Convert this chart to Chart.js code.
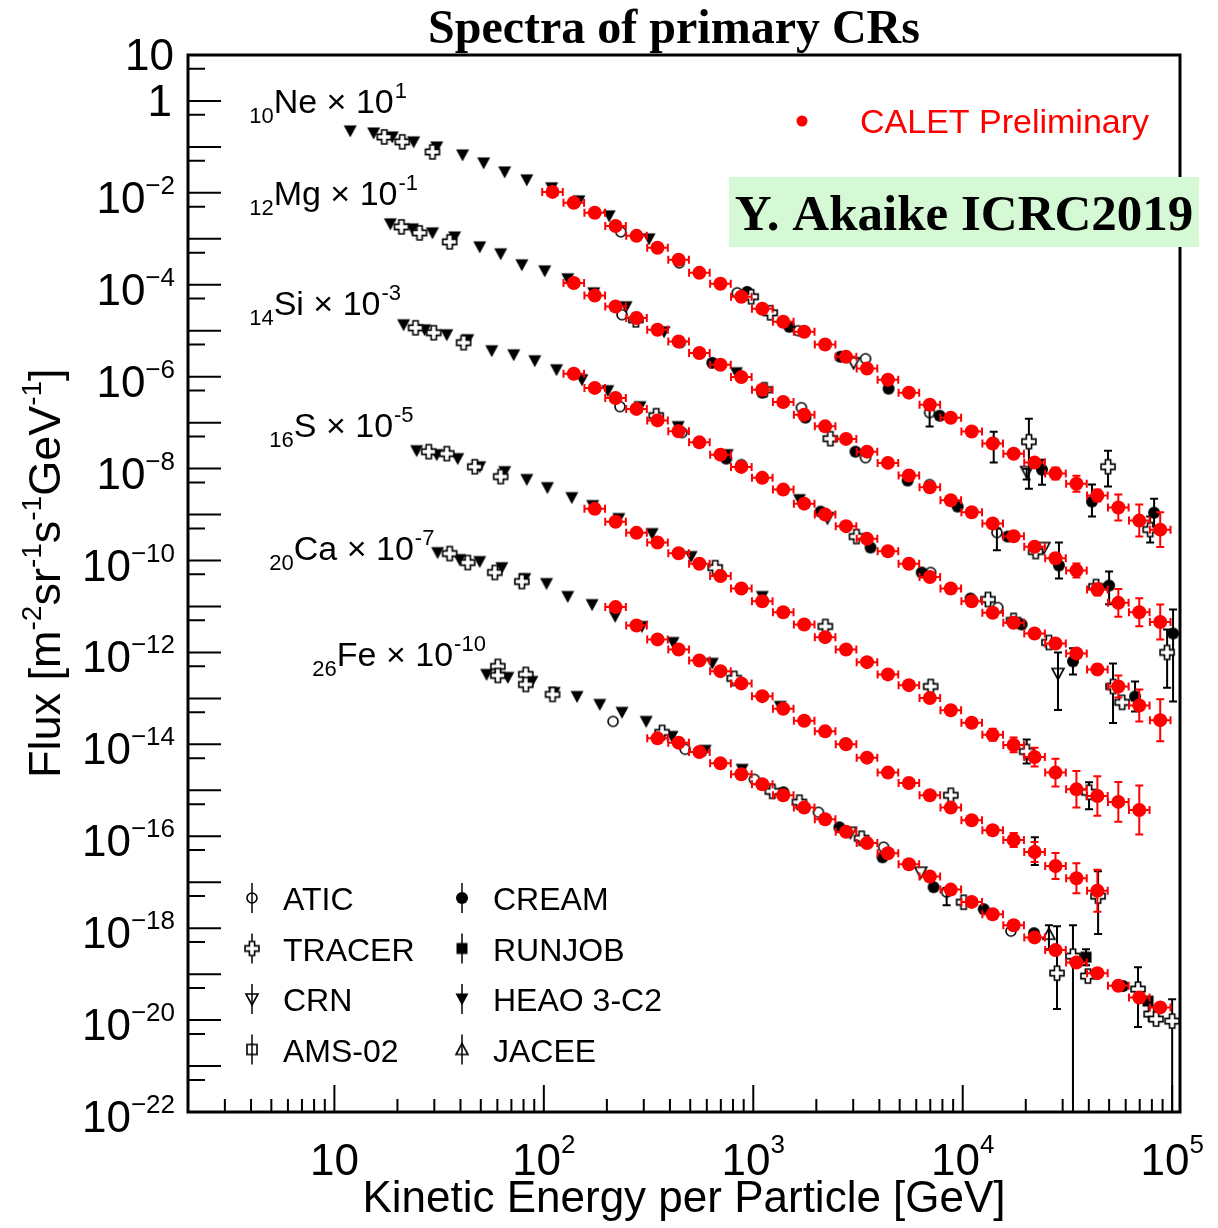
<!DOCTYPE html>
<html>
<head>
<meta charset="utf-8">
<title>Spectra of primary CRs</title>
<script src="https://cdn.jsdelivr.net/npm/chart.js@4.4.1/dist/chart.umd.min.js"></script>
<style>
  html, body { margin: 0; padding: 0; background: #fff; }
  canvas { display: block; }
</style>
</head>
<body>
<canvas id="graficoEspectros" width="1218" height="1228"></canvas>
<script>
// CALET energy bins (GeV per particle), shared by all elements
const caletEnergy = [110, 139, 175, 220, 277, 349, 440, 553, 697, 877, 1104, 1390, 1750, 2203, 2773,
  3491, 4395, 5533, 6966, 8770, 11040, 13900, 17500, 22030, 27730, 34910, 43950, 55330, 69660, 87700];

// CALET flux (already multiplied by the scale factor of each element) and relative errors
const caletNeFlux = [1.05e-2, 6.1e-3, 3.7e-3, 1.9e-3, 1.16e-3, 6.4e-4, 3.5e-4, 1.82e-4, 1.05e-4, 5.5e-5,
  3.0e-5, 1.57e-5, 9.5e-6, 5.0e-6, 2.7e-6, 1.5e-6, 8.6e-7, 4.5e-7, 2.46e-7, 1.28e-7,
  6.4e-8, 3.5e-8, 2.1e-8, 1.35e-8, 7.8e-9, 4.7e-9, 2.6e-9, 1.42e-9, 7.4e-10, 4.7e-10];
const caletNeErr = [0.03, 0.03, 0.03, 0.03, 0.03, 0.03, 0.03, 0.03, 0.03, 0.03, 0.03, 0.03, 0.03, 0.03, 0.03,
  0.03, 0.04, 0.04, 0.04, 0.05, 0.05, 0.06, 0.1, 0.16, 0.35, 0.49, 0.35, 0.92, 1.23, 1.4];

const caletMgFlux = [1.09e-4, 5.85e-5, 3.37e-5, 1.89e-5, 1.05e-5, 5.85e-6, 3.27e-6, 1.82e-6, 9.8e-7, 5.2e-7,
  2.82e-7, 1.49e-7, 8.3e-8, 4.43e-8, 2.34e-8, 1.33e-8, 7.1e-9, 3.92e-9, 2.05e-9, 1.12e-9,
  6.4e-10, 3.37e-10, 1.99e-10, 1.12e-10, 6.1e-11, 2.34e-11, 1.2e-11, 7.5e-12, 4.6e-12];
const caletMgErr = [0.03, 0.03, 0.03, 0.03, 0.03, 0.03, 0.03, 0.03, 0.03, 0.03, 0.03, 0.03, 0.03, 0.03, 0.03,
  0.03, 0.04, 0.04, 0.05, 0.05, 0.06, 0.1, 0.16, 0.28, 0.42, 0.35, 1.01, 1.01, 1.4];

const caletSiFlux = [1.16e-6, 5.7e-7, 3.44e-7, 1.99e-7, 1.12e-7, 6.5e-8, 3.73e-8, 2.01e-8, 1.09e-8, 6.3e-9,
  3.49e-9, 1.73e-9, 1.0e-9, 5.6e-10, 2.96e-10, 1.59e-10, 8.5e-11, 4.37e-11, 2.46e-11, 1.30e-11,
  7.3e-12, 4.43e-12, 2.59e-12, 1.57e-12, 9.5e-13, 4.27e-13, 1.82e-13, 7.0e-14, 3.36e-14];
const caletSiErr = [0.03, 0.03, 0.03, 0.03, 0.03, 0.03, 0.03, 0.03, 0.03, 0.03, 0.03, 0.03, 0.03, 0.03, 0.03,
  0.03, 0.04, 0.04, 0.05, 0.05, 0.06, 0.07, 0.08, 0.16, 0.22, 0.28, 0.73, 1.23, 1.86];

const caletSFlux = [1.33e-9, 7.0e-10, 4.0e-10, 2.46e-10, 1.44e-10, 8.5e-11, 4.58e-11, 2.46e-11, 1.30e-11,
  7.5e-12, 4.06e-12, 2.15e-12, 1.16e-12, 6.15e-13, 3.33e-13, 1.94e-13, 1.02e-13, 5.5e-14, 2.96e-14,
  1.61e-14, 9.7e-15, 5.3e-15, 2.43e-15, 1.05e-15, 7.5e-16, 5.6e-16, 3.73e-16];
const caletSErr = [0.03, 0.03, 0.03, 0.03, 0.03, 0.03, 0.03, 0.03, 0.03, 0.03, 0.03, 0.03, 0.04, 0.04,
  0.05, 0.05, 0.06, 0.1, 0.2, 0.35, 0.45, 0.6, 1.0, 1.5, 1.7, 1.7, 2.4];

const caletCaFlux = [9.7e-12, 3.86e-12, 1.92e-12, 1.16e-12, 6.7e-13, 3.92e-13, 2.12e-13, 1.12e-13, 5.97e-14,
  3.27e-14, 1.92e-14, 1.0e-14, 5.14e-15, 2.43e-15, 1.44e-15, 7.8e-16, 4.2e-16, 2.23e-16, 1.35e-16,
  8.3e-17, 4.56e-17, 2.26e-17, 1.22e-17, 6.5e-18];
const caletCaErr = [0.03, 0.03, 0.03, 0.03, 0.03, 0.03, 0.03, 0.03, 0.03, 0.03, 0.03, 0.03, 0.03, 0.04,
  0.04, 0.05, 0.06, 0.16, 0.22, 0.42, 0.65, 0.92, 1.12, 1.86];

const caletFeFlux = [1.35e-14, 1.09e-14, 6.8e-15, 3.86e-15, 2.23e-15, 1.35e-15, 7.8e-16, 4.2e-16, 2.34e-16,
  1.25e-16, 7.1e-17, 4.27e-17, 2.46e-17, 1.33e-17, 6.9e-18, 3.73e-18, 2.01e-18, 1.16e-18, 6.3e-19,
  3.33e-19, 1.79e-19, 1.05e-19, 5.6e-20, 3.11e-20, 1.89e-20];
const caletFeErr = [0.03, 0.03, 0.03, 0.03, 0.03, 0.03, 0.03, 0.03, 0.03, 0.03, 0.03, 0.03, 0.03, 0.03,
  0.03, 0.03, 0.04, 0.04, 0.05, 0.06, 0.08, 0.1, 0.16, 0.2, 0.2];

// first CALET bin used by each element
const caletFirstBin = [0, 1, 1, 2, 3, 5];
const caletBinFactor = 1.12; // half bin width, as a ratio

// Other experiments: [energy, flux, relErrUp, relErrDown]
const heao3 = [
  [11.9, 0.223], [15.4, 0.201], [18.9, 0.165], [23.9, 0.129], [30.8, 0.100], [40.9, 0.067], [51.6, 0.0449],
  [65.0, 0.0286], [82.9, 0.0192], [109, 0.0129], [147, 6.7e-3], [205, 3.16e-3], [318, 1.0e-3],
  [18.5, 2.12e-3], [23.6, 1.65e-3], [29.4, 1.35e-3], [37.5, 1.10e-3], [49.4, 6.7e-4], [62.2, 4.72e-4],
  [78.5, 2.72e-4], [101, 2.01e-4], [130, 1.35e-4], [173, 6.7e-5], [247, 3.33e-5], [375, 9.5e-6], [830, 1.22e-6],
  [21.4, 1.35e-5], [27.0, 1.05e-5], [34.4, 8.2e-6], [43.3, 6.4e-6], [56.4, 3.67e-6], [71.8, 3.0e-6],
  [90.5, 2.23e-6], [115, 1.42e-6], [152, 8.6e-7], [202, 4.97e-7], [288, 2.23e-7], [438, 8.2e-8],
  [751, 2.01e-8], [1660, 2.12e-9],
  [24.7, 2.46e-8], [30.8, 2.01e-8], [38.8, 1.65e-8], [49.4, 1.10e-8], [65.0, 8.6e-9], [82.9, 5.8e-9],
  [104, 3.86e-9], [136, 2.34e-9], [171, 1.57e-9], [228, 8.2e-10], [329, 3.86e-10], [505, 1.22e-10], [1104, 1.65e-11],
  [31.1, 1.49e-10], [39.6, 1.05e-10], [49.4, 9.5e-11], [63.0, 7.0e-11], [81.1, 4.06e-11], [103, 3.16e-11],
  [130, 1.65e-11], [170, 1.10e-11], [219, 6.1e-12], [294, 3.67e-12], [414, 1.65e-12], [637, 5.8e-13], [1346, 6.7e-14],
  [53.3, 3.33e-13], [67.3, 2.86e-13], [87.7, 2.34e-13], [112, 1.35e-13], [144, 1.10e-13], [185, 7.4e-14],
  [236, 4.97e-14], [308, 3.16e-14], [409, 1.49e-14], [589, 7.4e-15], [885, 2.86e-15]
];
const tracer = [
  [17.3, 0.165], [21.1, 0.129], [29.4, 0.0778], [977, 5.5e-5], [1205, 2.46e-5], [20700, 3.86e-8, 2.16, 0.905],
  [49400, 1.10e-8, 1.23, 0.63], [78500, 4.72e-10, 0.92, 0.48],
  [20.9, 1.82e-3], [25.5, 1.35e-3], [35.5, 8.6e-4], [275, 1.73e-5], [1130, 5.2e-7], [2333, 4.49e-8],
  [22300, 1.57e-10], [43300, 2.72e-11], [94600, 1.0e-12, 2.16, 0.83],
  [24.4, 1.16e-5], [29.8, 9.05e-6], [41.4, 5.5e-6], [344, 1.42e-7], [3110, 3.33e-10], [13200, 1.42e-11],
  [17500, 4.97e-12], [25800, 1.65e-12], [52200, 1.82e-13, 2.16, 0.84], [57700, 8.2e-14],
  [28.2, 2.34e-8], [34.4, 2.12e-8], [46.8, 1.10e-8], [62.2, 6.7e-9], [658, 7.0e-11], [2208, 3.67e-12],
  [7030, 1.82e-13], [20200, 7.0e-15, 0.82, 0.45], [40100, 9.05e-16, 0.65, 0.57],
  [35.5, 1.42e-10], [43.3, 9.05e-11], [58.3, 5.5e-11], [78.5, 3.49e-11], [811, 2.72e-13], [8770, 7.8e-16],
  [44300, 4.97e-18, 2.5, 0.85],
  [60.3, 4.97e-13], [60.3, 3.16e-13], [82.0, 3.33e-13], [82.0, 2.01e-13], [110, 1.22e-13], [367, 1.82e-14],
  [1233, 9.5e-16], [1660, 5.5e-16], [3290, 9.05e-17], [10100, 3.67e-18], [28200, 1.05e-19, 9.5, 0.835],
  [33600, 2.46e-19, 3.7, 1], [39600, 9.05e-20], [68700, 4.72e-20, 2.0, 0.85], [79400, 1.35e-20],
  [83800, 1.05e-20], [100000, 9.5e-21, 2.0, 1]
];
const atic = [
  [233, 1.42e-3], [443, 3.0e-4], [838, 6.7e-5], [1641, 1.0e-5], [3436, 2.46e-6], [6950, 1.65e-7, 0.16, 0.5],
  [14060, 3.67e-8, 0.73, 0.63],
  [236, 2.23e-5], [448, 5.5e-6], [1698, 2.12e-7], [3436, 1.73e-8], [6950, 4.49e-9], [14560, 4.06e-10, 0.22, 0.59],
  [231, 2.23e-7], [457, 6.1e-8], [877, 1.22e-8], [7030, 5.5e-11], [14700, 9.5e-12],
  [214, 3.16e-14], [473, 7.8e-15], [1012, 1.73e-15], [2046, 3.33e-16], [4190, 5.8e-17],
  [8380, 6.1e-18, 0.22, 0.48], [17000, 8.6e-19]
];
const cream = [
  [935, 7.0e-5], [1486, 1.22e-5], [2606, 2.72e-6], [4426, 5.5e-7], [7760, 1.42e-7], [23900, 9.5e-9, 0.65, 0.53],
  [41400, 1.92e-9, 1.35, 0.53], [82000, 1.10e-9, 1.01, 0.57],
  [637, 2.01e-6], [1104, 4.49e-7], [1774, 1.29e-7], [3076, 2.34e-8], [5460, 5.5e-9], [9460, 1.49e-9],
  [16400, 3.33e-10], [28800, 7.8e-11, 2.16, 0.48], [50000, 2.86e-11, 1.01, 0.61], [101000, 2.59e-12, 2.33, 0.967],
  [743, 1.65e-8], [2094, 1.16e-9], [3630, 1.92e-10], [6370, 5.5e-11], [10900, 1.49e-11], [19100, 4.06e-12],
  [33600, 6.4e-13, 0.92, 0.48], [66500, 1.10e-13, 1.12, 0.53],
  [2754, 1.05e-14], [22100, 4.72e-17, 1.01, 0.5],
  [1393, 9.05e-16], [2576, 1.57e-16], [4140, 3.49e-17], [7260, 7.8e-18], [12600, 2.59e-18], [21900, 7.8e-19],
  [58300, 5.5e-20]
];
const crn = [
  [3010, 2.01e-6], [20200, 8.6e-9, 0.16, 0.33], [24400, 1.92e-10], [2260, 8.6e-10],
  [28500, 3.49e-13, 1.86, 0.84], [2910, 1.22e-16], [6300, 1.65e-17]
];
const runjob = [[38800, 2.34e-19, 0.49, 0.33], [76700, 2.59e-20]];
const jacee = [[25800, 7.4e-19, 0.57, 0.53]];
const ams02 = [];

// Labels
const elementNames = ['Ne', 'Mg', 'Si', 'S', 'Ca', 'Fe'];
const elementCharges = ['10', '12', '14', '16', '20', '26'];
const elementScaleExp = ['1', '-1', '-3', '-5', '-7', '-10'];
const labelAnchorE = [3.92, 3.92, 3.92, 4.89, 4.89, 7.85];
const labelAnchorFlux = [0.548, 5.48e-3, 2.23e-5, 4.97e-8, 1.05e-10, 4.97e-13];
const yLabelExponents = [1, 0, -2, -4, -6, -8, -10, -12, -14, -16, -18, -20, -22];
const xLabelExponents = [1, 2, 3, 4, 5];

const SANS = '"Liberation Sans", Arial, Helvetica, sans-serif';
const SERIF = '"Liberation Serif", "Times New Roman", serif';

// Marker images (ROOT-like shapes)
const makeMarker = (draw) => {
  const c = document.createElement('canvas');
  c.width = 18; c.height = 18;
  const g = c.getContext('2d');
  g.translate(9, 9);
  g.lineWidth = 1.6; g.strokeStyle = '#000'; g.fillStyle = '#000';
  draw(g);
  return c;
};
const markers = {
  circleOpen: makeMarker(g => { g.beginPath(); g.arc(0, 0, 5, 0, 2 * Math.PI); g.stroke(); }),
  circleFilled: makeMarker(g => { g.beginPath(); g.arc(0, 0, 6, 0, 2 * Math.PI); g.fill(); }),
  triDownFilled: makeMarker(g => { g.beginPath(); g.moveTo(-6.5, -5.5); g.lineTo(6.5, -5.5); g.lineTo(0, 6.5); g.closePath(); g.fill(); }),
  triDownOpen: makeMarker(g => { g.beginPath(); g.moveTo(-6, -5); g.lineTo(6, -5); g.lineTo(0, 6); g.closePath(); g.stroke(); }),
  triUpOpen: makeMarker(g => { g.beginPath(); g.moveTo(0, -6); g.lineTo(6, 5); g.lineTo(-6, 5); g.closePath(); g.stroke(); }),
  squareOpen: makeMarker(g => { g.strokeRect(-5, -5, 10, 10); }),
  squareFilled: makeMarker(g => { g.fillRect(-5.5, -5.5, 11, 11); }),
  crossOpen: makeMarker(g => {
    const a = 2.6, l = 7;
    g.beginPath();
    g.moveTo(-a, -l); g.lineTo(a, -l); g.lineTo(a, -a); g.lineTo(l, -a); g.lineTo(l, a); g.lineTo(a, a);
    g.lineTo(a, l); g.lineTo(-a, l); g.lineTo(-a, a); g.lineTo(-l, a); g.lineTo(-l, -a); g.lineTo(-a, -a);
    g.closePath(); g.fillStyle = '#fff'; g.fill(); g.stroke();
  })
};

// Build datasets
const caletFluxes = [caletNeFlux, caletMgFlux, caletSiFlux, caletSFlux, caletCaFlux, caletFeFlux];
const caletErrors = [caletNeErr, caletMgErr, caletSiErr, caletSErr, caletCaErr, caletFeErr];

const caletDatasets = elementNames.map((name, k) => ({
  label: `CALET ${name}`,
  order: 0,
  errorColor: '#ff0000',
  pointStyle: 'circle',
  pointRadius: 7,
  backgroundColor: '#ff0000',
  borderColor: '#ff0000',
  borderWidth: 0,
  data: caletFluxes[k].map((f, i) => {
    const e = caletEnergy[caletFirstBin[k] + i];
    const err = caletErrors[k][i];
    return { x: e, y: f, xLo: e / caletBinFactor, xHi: e * caletBinFactor, yLo: f / (1 + err), yHi: f * (1 + err) };
  })
}));

const toPoints = (rows) => rows.map(([e, f, up, dn]) => (
  up === undefined ? { x: e, y: f } : { x: e, y: f, yHi: f * (1 + up), yLo: f * (1 - dn) }
));

const otherExperiments = [
  ['ATIC', atic, 'circleOpen'],
  ['TRACER', tracer, 'crossOpen'],
  ['CRN', crn, 'triDownOpen'],
  ['AMS-02', ams02, 'squareOpen'],
  ['CREAM', cream, 'circleFilled'],
  ['RUNJOB', runjob, 'squareFilled'],
  ['HEAO 3-C2', heao3, 'triDownFilled'],
  ['JACEE', jacee, 'triUpOpen']
];
const otherDatasets = otherExperiments.map(([name, rows, style]) => ({
  label: name,
  order: 1,
  errorColor: '#000',
  pointStyle: markers[style],
  pointRadius: 6,
  data: toPoints(rows)
}));

// Error bars, drawn just before each dataset's markers
const errorBarsPlugin = {
  id: 'errorBars',
  beforeDatasetDraw(chart, args) {
    const ds = chart.data.datasets[args.index];
    const { ctx, chartArea: a, scales: { x, y } } = chart;
    const cap = 4;
    ctx.save();
    ctx.beginPath();
    ctx.rect(a.left, a.top, a.right - a.left, a.bottom - a.top);
    ctx.clip();
    ctx.strokeStyle = ds.errorColor;
    ctx.lineWidth = 2;
    ds.data.forEach(p => {
      const px = x.getPixelForValue(p.x);
      const py = y.getPixelForValue(p.y);
      ctx.beginPath();
      if (p.xLo !== undefined) {
        const l = x.getPixelForValue(p.xLo), r = x.getPixelForValue(p.xHi);
        ctx.moveTo(l, py); ctx.lineTo(r, py);
        ctx.moveTo(l, py - cap); ctx.lineTo(l, py + cap);
        ctx.moveTo(r, py - cap); ctx.lineTo(r, py + cap);
      }
      if (p.yHi !== undefined) {
        const t = y.getPixelForValue(p.yHi);
        const b = p.yLo > 0 ? y.getPixelForValue(p.yLo) : a.bottom + 2;
        ctx.moveTo(px, t); ctx.lineTo(px, b);
        ctx.moveTo(px - cap, t); ctx.lineTo(px + cap, t);
        if (p.yLo > 0) { ctx.moveTo(px - cap, b); ctx.lineTo(px + cap, b); }
      }
      ctx.stroke();
    });
    ctx.restore();
  }
};

// "10^n" style text
const drawPowerLabel = (ctx, base, sup, x, baseline, align, baseSize, supSize, supRise) => {
  ctx.font = `${baseSize}px ${SANS}`;
  const wb = ctx.measureText(base).width;
  ctx.font = `${supSize}px ${SANS}`;
  const ws = sup ? ctx.measureText(sup).width : 0;
  const x0 = align === 'right' ? x - wb - ws : x - (wb + ws) / 2;
  ctx.textAlign = 'left';
  ctx.textBaseline = 'alphabetic';
  ctx.font = `${baseSize}px ${SANS}`;
  ctx.fillText(base, x0, baseline);
  if (sup) {
    ctx.font = `${supSize}px ${SANS}`;
    ctx.fillText(sup, x0 + wb, baseline - supRise);
  }
};

const decorPlugin = {
  id: 'decor',
  beforeDraw(chart) {
    const { ctx, width, height } = chart;
    ctx.save();
    ctx.fillStyle = '#fff';
    ctx.fillRect(0, 0, width, height);
    ctx.restore();
  },
  afterDraw(chart) {
    const { ctx, chartArea: a, scales: { x, y } } = chart;
    ctx.save();
    ctx.fillStyle = '#000';
    ctx.strokeStyle = '#000';

    // ticks (inside the frame)
    ctx.lineWidth = 2;
    ctx.beginPath();
    for (let k = 0; k <= 5; k++) {
      for (let m = 1; m <= 9; m++) {
        const v = m * Math.pow(10, k);
        if (v <= x.min || v > x.max) continue;
        const px = x.getPixelForValue(v);
        ctx.moveTo(px, a.bottom);
        ctx.lineTo(px, a.bottom - (m === 1 ? 27 : 13));
      }
    }
    for (let k = -22; k <= 1; k++) {
      const py = y.getPixelForValue(Math.pow(10, k));
      ctx.moveTo(a.left, py); ctx.lineTo(a.left + 33, py);
      const v5 = 5 * Math.pow(10, k - 1);
      if (v5 > y.min) {
        const p5 = y.getPixelForValue(v5);
        ctx.moveTo(a.left, p5); ctx.lineTo(a.left + 17, p5);
      }
    }
    ctx.stroke();

    // frame
    ctx.lineWidth = 3;
    ctx.strokeRect(a.left, a.top, a.right - a.left, a.bottom - a.top);

    // tick labels
    yLabelExponents.forEach(n => {
      const py = y.getPixelForValue(Math.pow(10, n));
      if (n === 1) drawPowerLabel(ctx, '10', '', 174, py + 15, 'right', 44, 26, 0);
      else if (n === 0) drawPowerLabel(ctx, '1', '', 172, py + 15, 'right', 44, 26, 0);
      else drawPowerLabel(ctx, '10', '\u2212' + (-n), 175, py + 20, 'right', 44, 26, 19);
    });
    xLabelExponents.forEach(n => {
      const px = x.getPixelForValue(Math.pow(10, n));
      drawPowerLabel(ctx, '10', n === 1 ? '' : String(n), px, a.bottom + 63, 'center', 44, 26, 22);
    });

    // axis titles
    ctx.font = `44px ${SANS}`;
    ctx.textAlign = 'center';
    ctx.fillText('Kinetic Energy per Particle [GeV]', (a.left + a.right) / 2, 1212);

    ctx.save();
    ctx.translate(60, 778);
    ctx.rotate(-Math.PI / 2);
    ctx.textAlign = 'left';
    let cx = 0;
    [['Flux [m', false], ['-2', true], ['sr', false], ['-1', true], ['s', false], ['-1', true],
     ['GeV', false], ['-1', true], [']', false]].forEach(([t, isSup]) => {
      ctx.font = isSup ? `28px ${SANS}` : `45px ${SANS}`;
      ctx.fillText(t, cx, isSup ? -19 : 0);
      cx += ctx.measureText(t).width;
    });
    ctx.restore();

    // title
    ctx.font = `bold 48px ${SERIF}`;
    ctx.textAlign = 'center';
    ctx.fillText('Spectra of primary CRs', 674, 43);

    // element labels
    elementNames.forEach((name, k) => {
      const lx = x.getPixelForValue(labelAnchorE[k]);
      const ly = y.getPixelForValue(labelAnchorFlux[k]);
      ctx.textAlign = 'left';
      ctx.font = `22px ${SANS}`;
      ctx.fillText(elementCharges[k], lx, ly + 10);
      let cx2 = lx + ctx.measureText(elementCharges[k]).width;
      ctx.font = `34px ${SANS}`;
      const main = `${name} \u00d7 10`;
      ctx.fillText(main, cx2, ly);
      cx2 += ctx.measureText(main).width + 1;
      ctx.font = `22px ${SANS}`;
      ctx.fillText(elementScaleExp[k], cx2, ly - 15);
    });

    // experiments legend (bottom left)
    ctx.font = `32px ${SANS}`;
    ctx.textAlign = 'left';
    ctx.lineWidth = 1.5;
    otherExperiments.forEach(([name, , style], i) => {
      const col = Math.floor(i / 4), row = i % 4;
      const mx = a.left + 64 + col * 210;
      const my = 898 + row * 50.5;
      ctx.beginPath();
      ctx.moveTo(mx, my - 15); ctx.lineTo(mx, my + 15);
      ctx.stroke();
      ctx.drawImage(markers[style], mx - 9, my - 9);
      ctx.fillText(name, mx + 31, my + 12);
    });

    // CALET legend entry
    ctx.fillStyle = '#ff0000';
    ctx.beginPath();
    ctx.arc(802, 121, 5.5, 0, 2 * Math.PI);
    ctx.fill();
    ctx.font = `34px ${SANS}`;
    ctx.fillText('CALET Preliminary', 860, 133);

    // reference box
    ctx.fillStyle = '#d4f9d4';
    ctx.fillRect(729, 177, 470, 70);
    ctx.fillStyle = '#000';
    ctx.font = `bold 51px ${SERIF}`;
    ctx.textAlign = 'center';
    ctx.fillText('Y. Akaike ICRC2019', 964, 230);

    ctx.restore();
  }
};

const canvasEspectros = document.getElementById('graficoEspectros');
new Chart(canvasEspectros, {
  type: 'scatter',
  data: { datasets: [...caletDatasets, ...otherDatasets] },
  options: {
    responsive: false,
    animation: false,
    events: [],
    layout: { padding: { left: 188, right: 38, top: 55, bottom: 116 } },
    scales: {
      x: { type: 'logarithmic', min: 2, max: 1.09e5, display: false },
      y: { type: 'logarithmic', min: 1e-22, max: 10, display: false }
    },
    plugins: { legend: { display: false }, tooltip: { enabled: false } }
  },
  plugins: [errorBarsPlugin, decorPlugin]
});
</script>
</body>
</html>
